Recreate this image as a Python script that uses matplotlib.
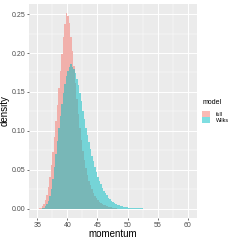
import numpy as np
import matplotlib.pyplot as plt
from matplotlib.patches import Patch

plt.rcParams['font.family'] = ['Liberation Sans', 'DejaVu Sans']

# histogram bins (0.25 wide, starting at 35)
bin_start = 35.0
bin_width = 0.25

# density per bin
full = [0.0, 0.0003, 0.001, 0.003, 0.006, 0.011, 0.018, 0.028, 0.040, 0.056,
        0.073, 0.092, 0.112, 0.133, 0.155, 0.177, 0.199, 0.220, 0.237, 0.251,
        0.247, 0.238, 0.221, 0.203, 0.183, 0.162, 0.141, 0.122, 0.104, 0.088,
        0.074, 0.062, 0.052, 0.043, 0.036, 0.030, 0.025, 0.020, 0.016, 0.013,
        0.011, 0.009, 0.007, 0.006, 0.005, 0.004, 0.003, 0.002, 0.002, 0.0015,
        0.001, 0.001, 0.0005, 0, 0, 0, 0, 0, 0, 0,
        0, 0, 0, 0, 0, 0, 0, 0, 0, 0,
        0, 0]
wilks = [0.0, 0.0, 0.0, 0.0003, 0.001, 0.003, 0.006, 0.010, 0.016, 0.025,
         0.038, 0.053, 0.070, 0.087, 0.103, 0.119, 0.134, 0.148, 0.160, 0.170,
         0.177, 0.182, 0.186, 0.182, 0.179, 0.174, 0.167, 0.159, 0.149, 0.138,
         0.126, 0.115, 0.104, 0.094, 0.085, 0.076, 0.068, 0.061, 0.054, 0.047,
         0.041, 0.036, 0.031, 0.027, 0.023, 0.020, 0.017, 0.014, 0.012, 0.010,
         0.0085, 0.007, 0.006, 0.005, 0.004, 0.0033, 0.0027, 0.0022, 0.0018, 0.0015,
         0.0012, 0.001, 0.0008, 0.0007, 0.0005, 0.0004, 0.0003, 0.0003, 0.0002, 0.0002,
         0.0001, 0.0001]

models = ['full', 'Wilks']
colors = ['#F8766D', '#00BFC4']
x_ticks = [35, 40, 45, 50, 55, 60]
y_ticks = [0.00, 0.05, 0.10, 0.15, 0.20, 0.25]

panel_bg = '#EBEBEB'
edges = bin_start + bin_width * np.arange(len(full) + 1)

fig = plt.figure(figsize=(2.41, 2.41), dpi=100)
ax = fig.add_axes([0.120, 0.094, 0.696, 0.891])
ax.set_facecolor(panel_bg)
for s in ax.spines.values():
    s.set_visible(False)

# grid lines do not show through the bars in the original, so cover them first
ax.stairs(np.maximum(full, wilks), edges, fill=True, color=panel_bg,
          linewidth=0, zorder=2)
# histograms on top of each other (position = identity)
for vals, c in zip([full, wilks], colors):
    ax.stairs(vals, edges, fill=True, color=c, alpha=0.5, linewidth=0, zorder=3)

ymax = max(max(full), max(wilks))
ax.set_xlim(33.6, 61.5)
ax.set_ylim(-0.05 * ymax, 1.05 * ymax)

ax.set_xticks(x_ticks)
ax.set_yticks(y_ticks)
ax.set_yticklabels(['%.2f' % v for v in y_ticks])
ax.set_xticks([37.5, 42.5, 47.5, 52.5, 57.5], minor=True)
ax.set_yticks([0.025, 0.075, 0.125, 0.175, 0.225], minor=True)
ax.grid(which='major', color='white', linewidth=0.7, zorder=0)
ax.grid(which='minor', color='white', linewidth=0.35, zorder=0)
ax.set_axisbelow(True)
ax.tick_params(which='major', length=1.6, width=0.5, color='#333333',
               labelsize=5, labelcolor='#4D4D4D', pad=1)
ax.tick_params(which='minor', length=0)

ax.set_xlabel('momentum', fontsize=7, labelpad=0)
ax.set_ylabel('density', fontsize=7, labelpad=1.5)

handles = [Patch(facecolor=c, alpha=0.5, edgecolor='none') for c in colors]
leg = fig.legend(handles, models, title='model', loc='upper left',
                 bbox_to_anchor=(0.840, 0.590), frameon=False, fontsize=3.9,
                 title_fontsize=5, handlelength=1.35, handleheight=1.3,
                 handletextpad=1.2, labelspacing=0, borderpad=0,
                 borderaxespad=0, alignment='left')
leg._legend_box.sep = 4

fig.savefig('out.png', dpi=100)
